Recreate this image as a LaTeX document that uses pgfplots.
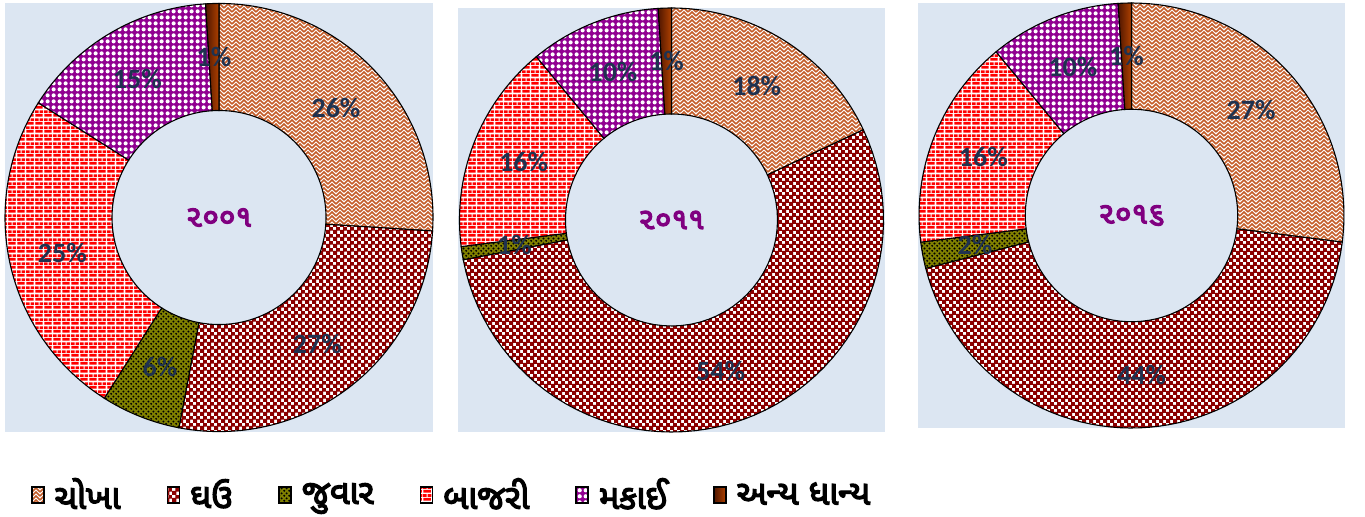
\documentclass[border=0pt]{standalone}
\usepackage{pgfplots}
\pgfplotsset{compat=1.18}
\usepackage{pgfplotstable}
\usetikzlibrary{patterns}
\usepackage{fontspec}
\setmainfont{Carlito}
\newfontfamily\gujfont[Script=Gujarati,AutoFakeBold=4]{Noto Sans Gujarati UI}

\definecolor{bgblue}{RGB}{220,230,242}
\definecolor{ricecol}{RGB}{196,92,40}
\definecolor{wheatcol}{RGB}{139,0,0}
\definecolor{jowarcol}{RGB}{128,128,0}
\definecolor{bajricol}{RGB}{255,0,0}
\definecolor{maizecol}{RGB}{145,0,145}
\definecolor{otherA}{RGB}{80,22,0}
\definecolor{otherB}{RGB}{175,65,0}
\definecolor{labcol}{RGB}{31,50,80}
\definecolor{yearcol}{RGB}{128,0,128}

\pgfdeclarepatternformonly{zigzag}{\pgfqpoint{-1pt}{-1pt}}{\pgfqpoint{5pt}{3pt}}{\pgfqpoint{4pt}{2pt}}{%
  \pgfsetlinewidth{0.8pt}%
  \pgfpathmoveto{\pgfqpoint{0pt}{0pt}}%
  \pgfpathlineto{\pgfqpoint{2pt}{2pt}}%
  \pgfpathlineto{\pgfqpoint{4pt}{0pt}}%
  \pgfusepath{stroke}}
\pgfdeclarepatternformonly{mychecker}{\pgfpointorigin}{\pgfqpoint{3.6pt}{3.6pt}}{\pgfqpoint{3.6pt}{3.6pt}}{%
  \pgfpathrectangle{\pgfpointorigin}{\pgfqpoint{2.3pt}{2.3pt}}%
  \pgfpathrectangle{\pgfqpoint{1.8pt}{1.8pt}}{\pgfqpoint{2.3pt}{2.3pt}}%
  \pgfusepath{fill}}
\pgfdeclarepatternformonly{mybricks}{\pgfpointorigin}{\pgfqpoint{4.5pt}{4pt}}{\pgfqpoint{4.5pt}{4pt}}{%
  \pgfpathrectangle{\pgfqpoint{0.25pt}{0.25pt}}{\pgfqpoint{4pt}{1.5pt}}%
  \pgfpathrectangle{\pgfqpoint{0pt}{2.25pt}}{\pgfqpoint{2pt}{1.5pt}}%
  \pgfpathrectangle{\pgfqpoint{2.5pt}{2.25pt}}{\pgfqpoint{2pt}{1.5pt}}%
  \pgfusepath{fill}}
\pgfdeclarepatternformonly{spheres}{\pgfpointorigin}{\pgfqpoint{2.8pt}{2.8pt}}{\pgfqpoint{2.8pt}{2.8pt}}{%
  \pgfpathcircle{\pgfqpoint{1.4pt}{1.4pt}}{1.1pt}%
  \pgfusepath{fill}}
\pgfdeclarepatternformonly{jdots}{\pgfpointorigin}{\pgfqpoint{2.4pt}{2.4pt}}{\pgfqpoint{2.4pt}{2.4pt}}{%
  \pgfpathcircle{\pgfqpoint{0.6pt}{0.6pt}}{0.55pt}%
  \pgfpathcircle{\pgfqpoint{1.8pt}{1.8pt}}{0.55pt}%
  \pgfusepath{fill}}

\tikzset{
  s0/.style={draw=black,preaction={fill=white},pattern=zigzag,pattern color=ricecol},
  s1/.style={draw=black,preaction={fill=white},pattern=mychecker,pattern color=wheatcol},
  s2/.style={draw=black,preaction={fill=jowarcol},pattern=jdots,pattern color=black},
  s3/.style={draw=black,preaction={fill=white},pattern=mybricks,pattern color=bajricol},
  s4/.style={draw=black,preaction={fill=maizecol},pattern=spheres,pattern color=white},
  s5/.style={draw=black,left color=otherA,right color=otherB},
}

% shares (%) : rice, wheat, jowar, bajri, maize, other
\pgfplotstableread{
crop v
0 26
1 27
2 6
3 25
4 15
5 1
}\tA
\pgfplotstableread{
crop v
0 18
1 54
2 1
3 16
4 10
5 1
}\tB
\pgfplotstableread{
crop v
0 27
1 44
2 2
3 16
4 10
5 1
}\tC

\newcommand{\labfont}{\fontsize{14}{16}\selectfont\bfseries}
\newcommand{\donut}[1]{%
  \gdef\cum{0}%
  \pgfplotsforeachungrouped \i in {0,...,5}{%
    \pgfplotstablegetelem{\i}{v}\of{#1}\let\val\pgfplotsretval
    \pgfmathsetmacro\aA{90-3.6*\cum}%
    \pgfmathsetmacro\aB{90-3.6*(\cum+\val)}%
    \pgfmathsetmacro\newcum{\cum+\val}\global\let\cum\newcum
    \edef\cmd{\noexpand\draw[line width=0.55pt,s\i]
      plot[domain=\aA:\aB,samples=60,variable=\noexpand\t] (axis cs:{cos(\noexpand\t)},{sin(\noexpand\t)})
      -- plot[domain=\aB:\aA,samples=40,variable=\noexpand\t] (axis cs:{0.5*cos(\noexpand\t)},{0.5*sin(\noexpand\t)}) -- cycle;}%
    \cmd
  }%
  \gdef\cum{0}%
  \pgfplotsforeachungrouped \i in {0,...,5}{%
    \pgfplotstablegetelem{\i}{v}\of{#1}\let\val\pgfplotsretval
    \pgfmathsetmacro\aM{90-3.6*(\cum+\val/2)}%
    \pgfmathsetmacro\newcum{\cum+\val}\global\let\cum\newcum
    \edef\cmd{\noexpand\node[font=\noexpand\labfont,text=labcol,inner sep=0pt] at (axis cs:{0.75*cos(\aM)},{0.75*sin(\aM)}) {\val\%};}%
    \cmd
  }%
}

\pgfplotsset{donutax/.style={
  scale only axis, axis line style={draw=none}, xtick=\empty, ytick=\empty,
  axis background/.style={fill=bgblue}, anchor=north west, clip=false}}

\newcommand{\yearfont}{\gujfont\bfseries\fontsize{15}{17}\selectfont}

\begin{document}
\begin{tikzpicture}
\useasboundingbox (0,0) rectangle (682.5pt,-258pt);
\begin{axis}[donutax, at={(2.5pt,-1.5pt)}, width=214pt, height=214.5pt,
  xmin=-1, xmax=1, ymin=-1.002, ymax=1.002,
  legend columns=6,
  legend style={at={(0.06,-0.147)}, anchor=west, draw=none, fill=none, inner sep=0pt,
    font=\gujfont\bfseries\fontsize{17}{19}\selectfont,
    /tikz/every odd column/.append style={column sep=3pt},
    /tikz/every even column/.append style={column sep=21pt}},
  legend image code/.code={\draw[#1,line width=0.8pt] (0pt,-4pt) rectangle (6pt,4pt);}]
\addlegendimage{s0}\addlegendentry{ચોખા}
\addlegendimage{s1}\addlegendentry{ઘઉ}
\addlegendimage{s2}\addlegendentry{જુવાર}
\addlegendimage{s3}\addlegendentry{બાજરી}
\addlegendimage{s4}\addlegendentry{મકાઈ}
\addlegendimage{s5}\addlegendentry{અન્ય ધાન્ય}
\donut{\tA}
\node[font=\yearfont,text=yearcol] at (axis cs:0,0) {૨૦૦૧};
\end{axis}
\begin{axis}[donutax, at={(229pt,-4pt)}, width=213.5pt, height=212pt,
  xmin=-1.007, xmax=1.007, ymin=-1, ymax=1]
\donut{\tB}
\node[font=\yearfont,text=yearcol] at (axis cs:0,0) {૨૦૧૧};
\end{axis}
\begin{axis}[donutax, at={(459pt,-1.5pt)}, width=213.5pt, height=212.5pt,
  xmin=-1.005, xmax=1.005, ymin=-1, ymax=1]
\donut{\tC}
\node[font=\yearfont,text=yearcol] at (axis cs:0,0) {૨૦૧૬};
\end{axis}
\end{tikzpicture}
\end{document}
